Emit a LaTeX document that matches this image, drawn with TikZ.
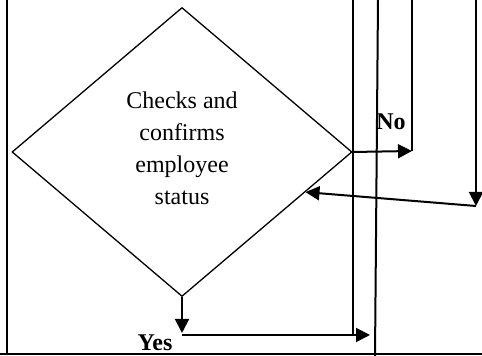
\documentclass[tikz,border=0pt]{standalone}
\usepackage{fontspec}
\setmainfont{Liberation Serif}
\usetikzlibrary{shapes.geometric,arrows.meta}

\begin{document}
\begin{tikzpicture}[x=0.5pt, y=-0.5pt, every node/.style={font=\fontsize{12}{16}\selectfont}]
    \tikzstyle{decision}=[draw, diamond, line width=0.65pt, align=center, inner sep=0pt,
                          minimum width=170pt, minimum height=144.5pt, text depth=4pt]
    \tikzstyle{flow}=[line width=1pt, -{Triangle[length=7pt, width=7pt]}]
    \tikzstyle{lane}=[line width=1pt]
    \tikzstyle{answer}=[font=\fontsize{12}{14}\selectfont\bfseries, inner sep=0pt]

    \useasboundingbox (0,0) rectangle (482,356);

    \node[decision] (check) at (182,152) {Checks and\\ confirms\\ employee\\ status};
    \node[answer] (yes) at (155,343) {Yes};
    \node[answer] (no) at (391,122) {No};

    \coordinate (yesdown) at (182,333);
    \coordinate (yesend) at (370,335);
    \coordinate (noend) at (412,151);
    \coordinate (notop) at (412,0);
    \coordinate (backtop) at (476,0);
    \coordinate (backdown) at (476,206);
    \coordinate (lanetop) at (353,0);
    \coordinate (lanebot) at (353,335);
    \coordinate (midtop) at (378,0);
    \coordinate (midbot) at (375,356);

    % frame
    \draw[lane] (7,0) -- (7,354);
    \draw[lane] (0,354) -- (482,354);

    \draw[lane] (lanetop) -- (lanebot);
    \draw[lane] (midtop) -- (midbot);

    \draw[flow] (check.south) -- (yesdown);
    \draw[flow] (yesdown |- yesend) -- (yesend);
    \draw[flow] (check.east) -- (noend);
    \draw[lane] (noend) -- (notop);
    \draw[flow] (backtop) -- (backdown);
    \draw[flow] (backdown) -- (check.-18);

  \end{tikzpicture}
\end{document}
